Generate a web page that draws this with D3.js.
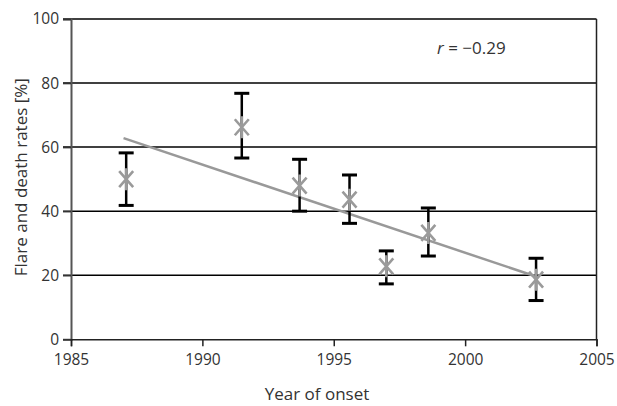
<!DOCTYPE html>
<html>
<head>
<meta charset="utf-8">
<script src="https://cdn.jsdelivr.net/npm/d3@7"></script>
<style>
  html, body { margin: 0; padding: 0; background: #fff; }
  svg text { font-family: "Open Sans", "Noto Sans", sans-serif; fill: #333; }
</style>
</head>
<body>
<svg id="chart" width="617" height="406"></svg>
<script>
// ---- data ----
const years    = [1987.1, 1991.5, 1993.7, 1995.6, 1997.0, 1998.6, 2002.7];
const rates    = [50.0, 66.2, 48.0, 43.6, 22.8, 33.2, 18.6];
const errUpper = [58.2, 76.8, 56.2, 51.3, 27.6, 41.0, 25.3];
const errLower = [41.8, 56.6, 40.0, 36.2, 17.3, 26.0, 12.1];
const trendYears = [1987.0, 2002.7];
const trendRates = [62.8, 19.6];
const xTicks = [1985, 1990, 1995, 2000, 2005];
const yTicks = [0, 20, 40, 60, 80, 100];
const rValue = "\u22120.29";

// ---- layout ----
const W = 617, H = 406;
const margin = { left: 71, right: 20.5, top: 19, bottom: 66.7 };
const svg = d3.select("#chart");
const x = d3.scaleLinear().domain([1985, 2005]).range([margin.left, W - margin.right]);
const y = d3.scaleLinear().domain([0, 100]).range([H - margin.bottom, margin.top]);

// gridlines
svg.append("g").selectAll("line").data(yTicks.filter(v => v > 0)).join("line")
  .attr("x1", x(1985) - 8).attr("x2", x(2005))
  .attr("y1", d => y(d)).attr("y2", d => y(d))
  .attr("stroke", "#000").attr("stroke-width", 1.5);

// right border
svg.append("line")
  .attr("x1", x(2005)).attr("x2", x(2005))
  .attr("y1", y(100)).attr("y2", y(0))
  .attr("stroke", "#222").attr("stroke-width", 1.5);

// y axis
const yAxis = svg.append("g").attr("transform", `translate(${x(1985)},0)`)
  .call(d3.axisLeft(y).tickValues(yTicks).tickSize(8).tickPadding(4));
yAxis.select(".domain").attr("stroke", "#555").attr("stroke-width", 2);
yAxis.selectAll(".tick line").attr("stroke", "#333").attr("stroke-width", 1.5);
yAxis.selectAll(".tick text").style("font-size", "15.5px").attr("fill", "#333");

// x axis
const xAxis = svg.append("g").attr("transform", `translate(0,${y(0)})`)
  .call(d3.axisBottom(x).tickValues(xTicks).tickFormat(d3.format("d")).tickSize(7).tickPadding(8));
xAxis.select(".domain").attr("stroke", "#222").attr("stroke-width", 1.5);
xAxis.selectAll(".tick line").attr("stroke", "#222").attr("stroke-width", 1.5);
xAxis.selectAll(".tick text").style("font-size", "15.5px").attr("fill", "#333");

// axis titles
svg.append("text")
  .attr("x", 317).attr("y", 400)
  .attr("text-anchor", "middle")
  .style("font-size", "17px")
  .text("Year of onset");
svg.append("text")
  .attr("transform", `translate(27,${(y(0) + y(100)) / 2 - 2}) rotate(-90)`)
  .attr("text-anchor", "middle")
  .style("font-size", "17px")
  .text("Flare and death rates [%]");

// correlation label
const rt = svg.append("text").attr("x", 437).attr("y", 53.5).style("font-size", "17px");
rt.append("tspan").style("font-style", "italic").text("r");
rt.append("tspan").text(" = " + rValue);

// trend line
const trend = trendYears.map((t, i) => [t, trendRates[i]]);
svg.append("path")
  .attr("d", d3.line().x(d => x(d[0])).y(d => y(d[1]))(trend))
  .attr("fill", "none").attr("stroke", "#999").attr("stroke-width", 2.5);

// error bars
const pts = years.map((yr, i) => ({ yr, v: rates[i], hi: errUpper[i], lo: errLower[i] }));
const eb = svg.append("g").attr("stroke", "#000").attr("stroke-width", 2.5);
eb.selectAll("line.v").data(pts).join("line").attr("class", "v")
  .attr("x1", d => x(d.yr)).attr("x2", d => x(d.yr))
  .attr("y1", d => y(d.hi)).attr("y2", d => y(d.lo));
eb.selectAll("line.hi").data(pts).join("line").attr("class", "hi")
  .attr("x1", d => x(d.yr) - 7.5).attr("x2", d => x(d.yr) + 7.5)
  .attr("y1", d => y(d.hi)).attr("y2", d => y(d.hi)).attr("stroke-width", 3);
eb.selectAll("line.lo").data(pts).join("line").attr("class", "lo")
  .attr("x1", d => x(d.yr) - 7.5).attr("x2", d => x(d.yr) + 7.5)
  .attr("y1", d => y(d.lo)).attr("y2", d => y(d.lo)).attr("stroke-width", 3);

// asterisk markers
const star = "M-7,-8L7,8M-7,8L7,-8M0,-11L0,11";
svg.append("g").selectAll("path").data(pts).join("path")
  .attr("transform", d => `translate(${x(d.yr)},${y(d.v)})`)
  .attr("d", star)
  .attr("fill", "none").attr("stroke", "#9a9a9a").attr("stroke-width", 2.6);
</script>
</body>
</html>
